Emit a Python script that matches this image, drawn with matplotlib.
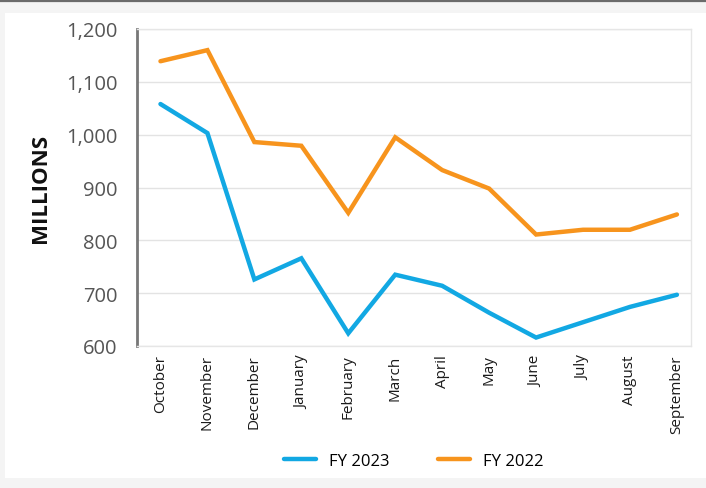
import matplotlib.pyplot as plt
from matplotlib.patches import Rectangle
from matplotlib.lines import Line2D

months = ["October", "November", "December", "January", "February", "March",
          "April", "May", "June", "July", "August", "September"]
fy2023 = [1058, 1003, 726, 766, 624, 735, 714, 663, 616, 645, 674, 697]
fy2022 = [1139, 1160, 986, 979, 852, 995, 933, 898, 811, 820, 820, 849]
yticks = [600, 700, 800, 900, 1000, 1100, 1200]

plt.rcParams["font.family"] = ["Open Sans", "DejaVu Sans"]

W, H = 706, 489
fig = plt.figure(figsize=(W / 100, H / 100), dpi=100)
fig.patch.set_facecolor("#f4f4f4")

# white card and top rule
fig.add_artist(Rectangle((5 / W, 1 - 479 / H), 701 / W, 465 / H,
                         transform=fig.transFigure, facecolor="white",
                         edgecolor="none", zorder=0))
fig.add_artist(Line2D([0, 1], [1 - 1.5 / H, 1 - 1.5 / H],
                      transform=fig.transFigure, color="#6b6b6b", lw=1.6))

ax = fig.add_axes([137 / W, 1 - 347 / H, (691 - 137) / W, (347 - 30) / H])
ax.set_facecolor("white")

x = list(range(len(months)))
ax.plot(x, fy2023, color="#12a8e3", lw=3.2, solid_capstyle="round",
        solid_joinstyle="miter", label="FY 2023", zorder=3)
ax.plot(x, fy2022, color="#f7941d", lw=3.2, solid_capstyle="round",
        solid_joinstyle="miter", label="FY 2022", zorder=3)

ax.set_ylim(600, 1200)
ax.set_xlim(-0.5, 11.3)
ax.set_yticks(yticks)
ax.set_yticklabels([f"{v:,}" for v in yticks], fontsize=14.5, color="#555555")
ax.set_xticks(x)
ax.set_xticklabels(months, rotation=90, fontsize=11, color="#1a1a1a",
                   va="top", ha="center")
ax.tick_params(axis="both", length=0)
ax.tick_params(axis="y", pad=14)
ax.tick_params(axis="x", pad=6)

ax.grid(axis="y", color="#e3e3e3", lw=1)
ax.set_axisbelow(True)
for s in ["top", "right", "bottom"]:
    ax.spines[s].set_color("#e6e6e6")
    ax.spines[s].set_linewidth(1)
ax.spines["left"].set_color("#777777")
ax.spines["left"].set_linewidth(2)

ax.set_ylabel("MILLIONS", fontsize=16, fontweight="bold", color="#111111",
              labelpad=11)

fig.legend(*ax.get_legend_handles_labels(), loc="center",
           bbox_to_anchor=(414 / W, 1 - 462 / H), ncol=2, frameon=False,
           fontsize=12, handlelength=1.9, columnspacing=2.9,
           handletextpad=0.8)

fig.savefig("out.png", dpi=100, facecolor=fig.get_facecolor())
